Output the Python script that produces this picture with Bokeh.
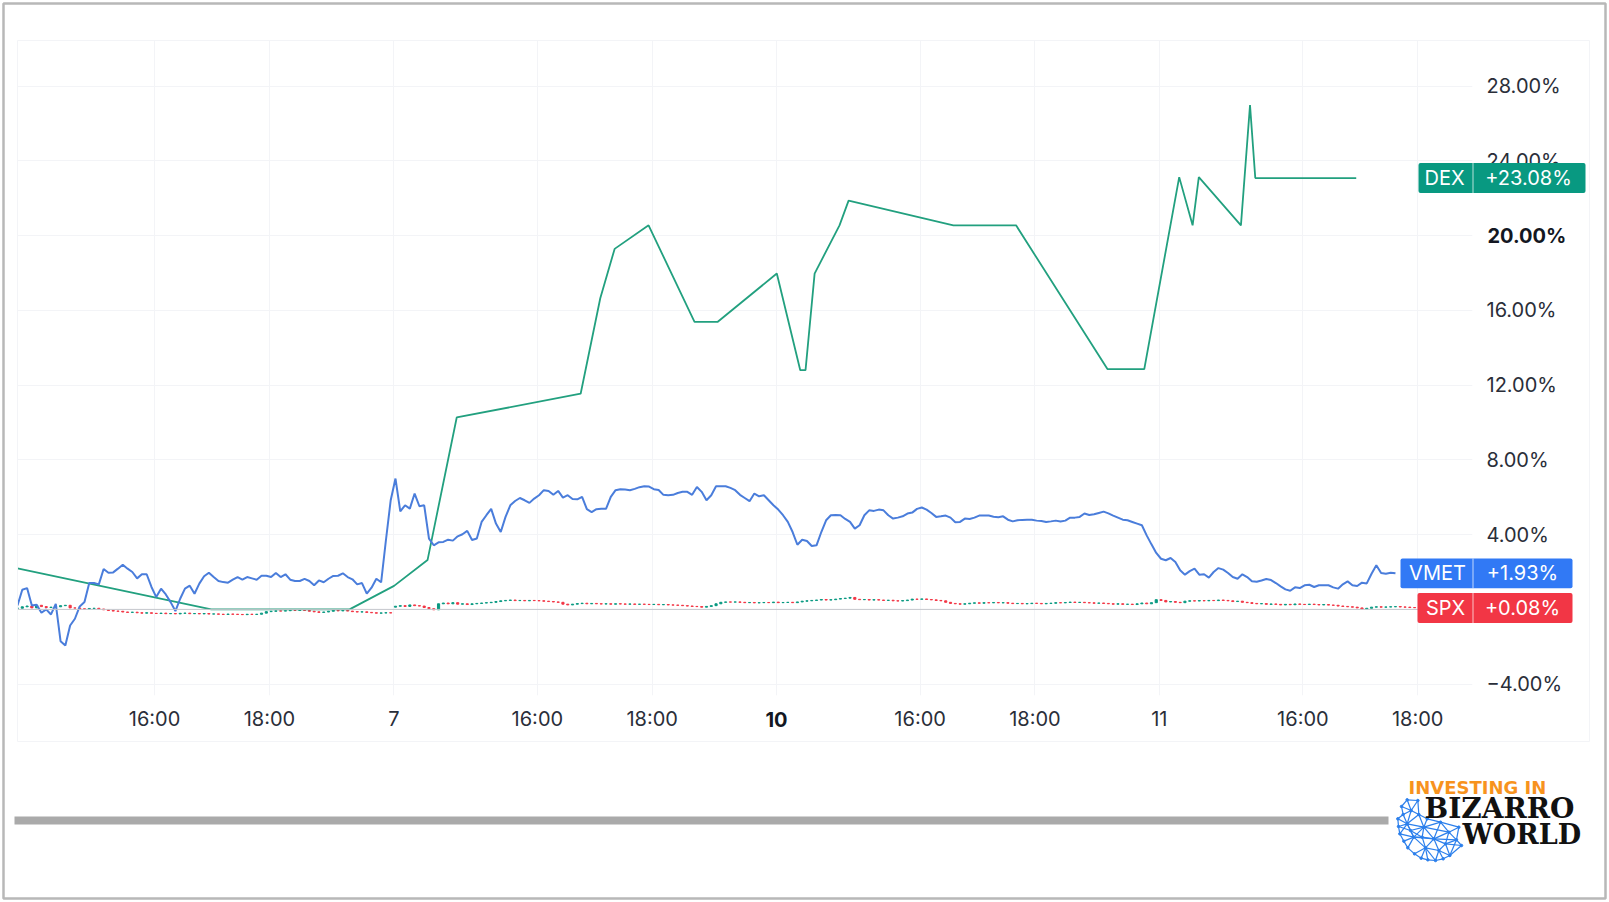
# percent change chart: DEX, VMET and SPX over a few sessions

from bokeh.core.properties import value
from bokeh.embed import file_html
from bokeh.models import ColumnDataSource, FixedTicker, LinearAxis, Range1d, Span
from bokeh.plotting import figure
from bokeh.resources import INLINE

# x is the number of 5 minute bars since the left edge
tick_bars = [28.65, 52.65, 78.65, 108.65, 132.65, 158.65, 188.65, 212.65, 238.65, 268.65, 292.65]
tick_names = ["16:00", "18:00", "7", "16:00", "18:00", "", "16:00", "18:00", "11", "16:00", "18:00"]
bold_tick = "10"
bold_tick_bar = 158.65

pct_ticks = [-4, 4, 8, 12, 16, 20, 24, 28]
pct_names = ["\u22124.00%", "4.00%", "8.00%", "12.00%", "16.00%", "", "24.00%", "28.00%"]
bold_pct = 20
bold_pct_name = "20.00%"

vmet = [
    0.21, 1.05, 1.14, 0.21, 0.25, -0.18, 0.00, -0.27, 0.30, -1.70,
    -1.93, -0.86, -0.50, 0.16, 0.39, 1.41, 1.41, 1.34, 2.16, 1.96,
    1.98, 2.18, 2.39, 2.18, 2.00, 1.66, 1.88, 1.88, 1.20, 0.66,
    1.11, 0.80, 0.39, -0.09, 0.57, 1.11, 1.27, 0.84, 1.38, 1.77,
    1.96, 1.73, 1.52, 1.46, 1.43, 1.59, 1.73, 1.59, 1.73, 1.66,
    1.59, 1.80, 1.80, 1.73, 1.95, 1.73, 1.88, 1.59, 1.52, 1.52,
    1.63, 1.52, 1.29, 1.55, 1.45, 1.64, 1.79, 1.80, 1.93, 1.73,
    1.61, 1.34, 1.41, 0.84, 1.16, 1.64, 1.45, 3.70, 5.84, 7.00,
    5.25, 5.57, 5.39, 6.20, 5.52, 5.57, 3.79, 3.43, 3.59, 3.61,
    3.73, 3.68, 3.91, 4.02, 4.20, 3.71, 3.79, 4.68, 5.04, 5.38,
    4.59, 4.14, 4.95, 5.57, 5.80, 5.96, 5.84, 5.70, 5.93, 6.11,
    6.38, 6.34, 6.13, 6.34, 5.98, 6.11, 5.91, 5.89, 6.02, 5.36,
    5.21, 5.36, 5.38, 5.38, 6.02, 6.38, 6.43, 6.41, 6.38, 6.45,
    6.54, 6.59, 6.57, 6.43, 6.39, 6.13, 6.11, 6.13, 6.23, 6.29,
    6.29, 6.13, 6.55, 6.29, 5.84, 6.11, 6.59, 6.59, 6.59, 6.50,
    6.38, 6.13, 5.96, 5.79, 6.20, 6.05, 6.11, 5.84, 5.57, 5.34,
    5.04, 4.68, 4.14, 3.46, 3.73, 3.66, 3.39, 3.43, 4.14, 4.77,
    5.04, 5.05, 5.04, 4.84, 4.68, 4.32, 4.50, 5.04, 5.30, 5.27,
    5.34, 5.30, 5.04, 4.86, 4.91, 4.98, 5.13, 5.18, 5.38, 5.45,
    5.34, 5.16, 4.95, 4.98, 5.02, 4.91, 4.66, 4.68, 4.86, 4.84,
    4.91, 5.02, 5.02, 5.02, 4.96, 4.93, 4.98, 4.80, 4.71, 4.77,
    4.79, 4.80, 4.80, 4.75, 4.73, 4.68, 4.71, 4.75, 4.70, 4.75,
    4.91, 4.91, 4.95, 5.13, 5.05, 5.09, 5.16, 5.23, 5.14, 5.02,
    4.91, 4.80, 4.77, 4.68, 4.59, 4.50, 3.96, 3.48, 3.02, 2.71,
    2.63, 2.75, 2.54, 2.09, 1.86, 2.05, 2.18, 1.86, 1.88, 1.70,
    2.00, 2.21, 2.13, 1.95, 1.73, 1.64, 1.88, 1.73, 1.50, 1.48,
    1.55, 1.63, 1.57, 1.41, 1.23, 1.07, 1.00, 1.18, 1.14, 1.29,
    1.32, 1.20, 1.29, 1.29, 1.29, 1.18, 1.11, 1.34, 1.50, 1.29,
    1.25, 1.43, 1.39, 1.91, 2.36, 1.95, 1.91, 1.96, 1.93,
]

dex_bars = [0, 40.5, 69.4, 78.7, 85.7, 91.8, 117.7, 121.8, 124.8, 131.9, 141.5, 146.3, 158.7,
            163.6, 164.7, 166.6, 171.8, 173.7, 195.6, 208.7, 227.8, 235.5, 242.8, 245.6,
            246.9, 255.7, 257.6, 258.7, 279.8]
dex = [2.2, 0.0, 0.0, 1.26, 2.64, 10.27, 11.54, 16.65, 19.29, 20.55, 15.38, 15.38, 17.97,
       12.8, 12.8, 17.97, 20.55, 21.87, 20.55, 20.55, 12.86, 12.86, 23.13, 20.55,
       23.13, 20.55, 26.98, 23.08, 23.08]

spx_close = [
    0.06, 0.14, 0.18, 0.08, 0.22, 0.15, 0.10, 0.12, 0.14, 0.20,
    0.22, 0.08, 0.07, 0.03, 0.02, 0.05, 0.06, 0.02, -0.02, -0.06,
    -0.09, -0.10, -0.14, -0.16, -0.15, -0.18, -0.20, -0.18, -0.21, -0.22,
    -0.20, -0.23, -0.22, -0.24, -0.21, -0.20, -0.23, -0.22, -0.24, -0.22,
    -0.25, -0.24, -0.26, -0.27, -0.25, -0.26, -0.27, -0.28, -0.26, -0.27,
    -0.26, -0.20, -0.12, -0.10, -0.08, -0.09, -0.07, -0.05, -0.06, -0.04,
    -0.06, -0.10, -0.13, -0.16, -0.14, -0.10, -0.05, -0.08, -0.06, -0.09,
    -0.12, -0.14, -0.13, -0.16, -0.18, -0.20, -0.19, -0.18, -0.19,
    0.17, 0.20, 0.16, 0.24, 0.20, 0.18, 0.10, 0.04, -0.02, 0.30, 0.34,
    0.30, 0.36, 0.28, 0.30, 0.26, 0.30, 0.32, 0.34, 0.36, 0.38,
    0.42, 0.46, 0.48, 0.50, 0.47, 0.48, 0.46, 0.48, 0.47, 0.46,
    0.44, 0.42, 0.40, 0.38, 0.28, 0.24, 0.28, 0.31, 0.33, 0.30,
    0.32, 0.30, 0.29, 0.30, 0.28, 0.30, 0.29, 0.28, 0.29, 0.27,
    0.28, 0.27, 0.26, 0.27, 0.25, 0.26, 0.24, 0.23, 0.22, 0.20,
    0.18, 0.16, 0.15, 0.12, 0.16, 0.20, 0.30, 0.38, 0.40, 0.39,
    0.40, 0.38, 0.36, 0.37, 0.35, 0.36, 0.37, 0.36, 0.39, 0.36,
    0.37, 0.38, 0.36, 0.40, 0.44, 0.46, 0.48, 0.50, 0.53, 0.50,
    0.52, 0.55, 0.58, 0.60, 0.64, 0.54, 0.52, 0.53, 0.50, 0.52,
    0.50, 0.48, 0.49, 0.46, 0.45, 0.47, 0.50, 0.55, 0.54, 0.56,
    0.53, 0.51, 0.48, 0.46, 0.38, 0.32, 0.30, 0.28, 0.30, 0.33,
    0.35, 0.33, 0.36, 0.35, 0.37, 0.35, 0.36, 0.33, 0.31, 0.32,
    0.30, 0.31, 0.33, 0.32, 0.30, 0.32, 0.33, 0.36, 0.35, 0.37,
    0.39, 0.37, 0.38, 0.36, 0.35, 0.33, 0.34, 0.32, 0.30, 0.28,
    0.30, 0.27, 0.28, 0.26, 0.30, 0.34, 0.30, 0.36, 0.52, 0.48,
    0.40, 0.42, 0.38, 0.36, 0.44, 0.46, 0.45, 0.47, 0.46, 0.48,
    0.47, 0.50, 0.48, 0.46, 0.42, 0.44, 0.38, 0.36, 0.32, 0.30,
    0.31, 0.27, 0.29, 0.27, 0.24, 0.27, 0.25, 0.29, 0.27, 0.26,
    0.28, 0.26, 0.24, 0.26, 0.23, 0.22, 0.18, 0.16, 0.14, 0.12,
    0.08, 0.02, 0.06, 0.12, 0.14, 0.12, 0.13, 0.14, 0.15, 0.13,
    0.12, 0.10, 0.09, 0.08,
]
spx_gap_bars = [79]

tag_names = ["DEX", "VMET", "SPX"]
tag_values = [23.08, 1.93, 0.08]
tag_texts = ["+23.08%", "+1.93%", "+0.08%"]

GREEN = "#089981"
BLUE = "#3179f5"
RED = "#f23645"
TEXT = "#2a2e39"
GRID = "#f3f4f7"
FONT = "Inter"
ON_PAGE = {"position": "absolute", "left": "0px", "top": "0px"}


def build_chart():
    _p = figure(width=1609, height=902, x_range=Range1d(0, 304.1), y_range=Range1d(-4.607, 30.44),
                toolbar_location=None, tools="", output_backend="svg", y_axis_location=None,
                min_border_left=17, min_border_right=137, min_border_top=40, min_border_bottom=207,
                outline_line_color=None, styles=ON_PAGE)

    _p.xaxis.ticker = FixedTicker(ticks=tick_bars)
    _p.xaxis.major_label_overrides = dict(zip(tick_bars, tick_names))
    _p.xaxis.axis_line_color = None
    _p.xaxis.major_tick_line_color = None
    _p.xaxis.minor_tick_line_color = None
    _p.xaxis.major_label_standoff = 5
    _p.xaxis.major_label_text_font = FONT
    _p.xaxis.major_label_text_font_size = "20px"
    _p.xaxis.major_label_text_color = TEXT

    right = LinearAxis(ticker=FixedTicker(ticks=pct_ticks),
                       major_label_overrides=dict(zip(pct_ticks, pct_names)),
                       axis_line_color=None, major_tick_line_color=None,
                       minor_tick_line_color=None, major_label_standoff=8,
                       major_label_text_font=FONT, major_label_text_font_size="20px",
                       major_label_text_color=TEXT)
    _p.add_layout(right, "right")

    _p.xgrid.ticker = FixedTicker(ticks=tick_bars)
    _p.xgrid.grid_line_color = GRID
    _p.ygrid.ticker = FixedTicker(ticks=pct_ticks)
    _p.ygrid.grid_line_color = GRID

    _p.add_layout(Span(location=0, dimension="width", line_color="#c4c6cc", line_width=1))

    # SPX candles are so small that they read as a dashed line
    opens = [spx_close[0]] + spx_close[:-1]
    for bar in spx_gap_bars:
        opens[bar] = spx_close[bar] - 0.05
    candles = ColumnDataSource(data=dict(
        x=list(range(len(spx_close))),
        top=[max(a, b) for a, b in zip(opens, spx_close)],
        bottom=[min(a, b) for a, b in zip(opens, spx_close)],
        color=[GREEN if b >= a else RED for a, b in zip(opens, spx_close)],
    ))
    _p.vbar(x="x", top="top", bottom="bottom", width=0.45, color="color", line_width=1,
            source=candles)

    _p.line(dex_bars, dex, line_color="#22a07f", line_width=1.8)
    _p.line(list(range(len(vmet))), vmet, line_color="#4a7ddb", line_width=2)
    return _p


def add_tag(_p, name, val, text, color, left, right, name_x, value_x):
    _p.quad(left=[left], right=[right], top=[val + 0.8], bottom=[val - 0.8], fill_color=color,
            line_color=None, border_radius=2, y_range_name="pct")
    _p.quad(left=[1472], right=[1473], top=[val + 0.8], bottom=[val - 0.8], fill_color="#ffffff",
            fill_alpha=0.7, line_color=None, y_range_name="pct")
    _p.text([name_x, value_x], [val, val], text=[name, text], text_color="#ffffff",
            text_font=value(FONT), text_font_size="20px", text_align="center",
            text_baseline="middle", y_range_name="pct")


def build_overlay():
    # full canvas layer for what bokeh would clip at the plot frame, x and y are page pixels
    _p = figure(width=1609, height=902, x_range=Range1d(0, 1609), y_range=Range1d(902, 0),
                toolbar_location=None, tools="", output_backend="svg", min_border=0,
                outline_line_color=None, background_fill_alpha=0, border_fill_alpha=0,
                styles=ON_PAGE)
    _p.xaxis.visible = False
    _p.yaxis.visible = False
    _p.grid.visible = False
    # same scales as the chart, run out to the edges of the canvas
    _p.extra_y_ranges = {"pct": Range1d(-15.68, 32.58)}
    _p.extra_x_ranges = {"bars": Range1d(-3.55, 332.78)}

    _p.quad(left=[3], right=[1605], top=[3], bottom=[898], fill_color=None,
            line_color="#b8b8b8", line_width=2.5)
    _p.quad(left=[17], right=[1589], top=[40], bottom=[741], fill_color=None,
            line_color=GRID, line_width=1)
    _p.quad(left=[14], right=[1388], top=[816], bottom=[824], fill_color="#aaaaaa",
            line_color=None)

    _p.text([bold_tick_bar], [719], text=[bold_tick], x_range_name="bars", text_color="#131722",
            text_font=value(FONT), text_font_style="bold", text_font_size="20px",
            text_align="center", text_baseline="middle")
    _p.text([1487], [bold_pct], text=[bold_pct_name], y_range_name="pct", text_color="#131722",
            text_font=value(FONT), text_font_style="bold", text_font_size="20px",
            text_baseline="middle")

    add_tag(_p, tag_names[0], tag_values[0], tag_texts[0], GREEN, 1418, 1585, 1444, 1528)
    add_tag(_p, tag_names[1], tag_values[1], tag_texts[1], BLUE, 1400, 1572, 1437, 1522)
    add_tag(_p, tag_names[2], tag_values[2], tag_texts[2], RED, 1417, 1572, 1445, 1522)

    # globe of the logo, nodes at 3x
    nodes = {"a": (50, 28), "b": (33, 48), "c": (22, 85), "d": (28, 130), "e": (52, 172),
             "f": (92, 203), "g": (135, 210), "h": (178, 195), "i": (213, 165), "j": (82, 30),
             "k": (62, 60), "l": (85, 72), "m": (50, 100), "n": (100, 110), "o": (150, 95),
             "p": (70, 140), "q": (130, 145), "r": (175, 125), "s": (105, 172), "t": (145, 180),
             "u": (198, 148), "v": (38, 72), "w": (24, 108), "x": (72, 190), "y": (112, 208),
             "z": (158, 205), "A": (110, 85), "B": (205, 110), "C": (60, 120), "D": (95, 140),
             "E": (165, 160), "F": (40, 152)}
    edges = ["ab", "bv", "vc", "cw", "wd", "dF", "Fe", "ex", "xf", "fy", "yg", "gz", "zh", "hi",
             "aj", "jk", "ak", "bk", "kl", "jl", "km", "vm", "vk", "cm", "lm", "ln", "mn", "mw",
             "md", "mp", "dp", "np", "nA", "lA", "Ao", "no", "nq", "oq", "or", "qr", "ru", "ui",
             "pq", "ps", "Fp", "ep", "sq", "sf", "sx", "sy", "sg", "st", "tq", "tg", "tz", "th",
             "tE", "Eq", "Er", "Eu", "Ei", "Eh", "qu", "hu", "nr", "rB", "oB", "uB", "mC", "nC",
             "Cp", "CD", "Dn", "Dq", "Dp", "Ds", "wC"]
    _p.multi_line(xs=[[1390 + nodes[e[0]][0] / 3, 1390 + nodes[e[1]][0] / 3] for e in edges],
                  ys=[[790 + nodes[e[0]][1] / 3, 790 + nodes[e[1]][1] / 3] for e in edges],
                  line_color="#2b7fec", line_width=1.2)
    _p.scatter([1390 + n[0] / 3 for n in nodes.values()], [790 + n[1] / 3 for n in nodes.values()],
               size=2.5, color="#2b7fec")

    _p.text([1408], [787], text=["INVESTING IN"], text_color="#f7931e", text_baseline="middle",
            text_font=value("DejaVu Sans"), text_font_style="bold", text_font_size="18px")
    _p.text([1424], [808], text=["BIZARRO"], text_color="#111111", text_baseline="middle",
            text_font=value("DejaVu Serif"), text_font_style="bold", text_font_size="28px")
    _p.text([1462], [834], text=["WORLD"], text_color="#111111", text_baseline="middle",
            text_font=value("DejaVu Serif"), text_font_style="bold", text_font_size="27px")
    return _p


p = build_chart()
overlay = build_overlay()
open("out.html", "w").write(file_html([p, overlay], INLINE))
